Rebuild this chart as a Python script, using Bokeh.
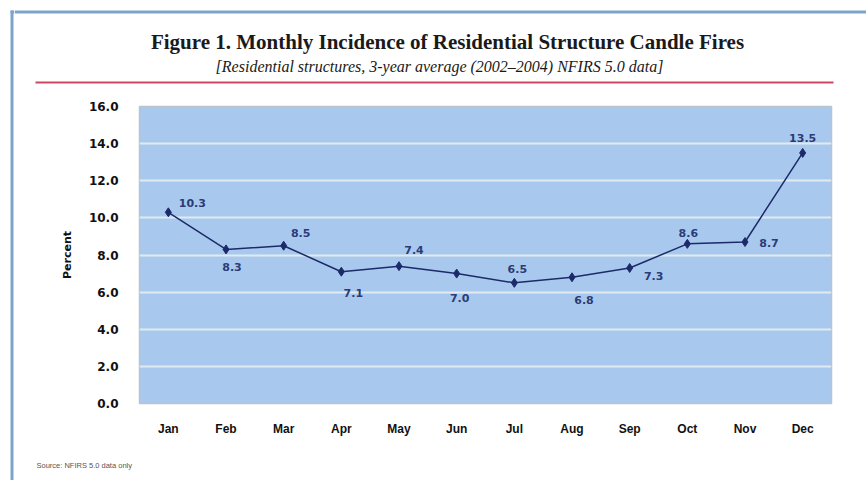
from bokeh.plotting import figure
from bokeh.layouts import row, column
from bokeh.models import (ColumnDataSource, FactorRange, Range1d, Label, LabelSet,
                          BoxAnnotation, SingleIntervalTicker, NumeralTickFormatter)
from bokeh.core.properties import value
from bokeh.embed import file_html
from bokeh.resources import INLINE

months = ["Jan", "Feb", "Mar", "Apr", "May", "Jun", "Jul", "Aug", "Sep", "Oct", "Nov", "Dec"]
percent = [10.3, 8.3, 8.5, 7.1, 7.4, 7.0, 6.5, 6.8, 7.3, 8.6, 8.7, 13.5]
labels = ["10.3", "8.3", "8.5", "7.1", "7.4", "7.0", "6.5", "6.8", "7.3", "8.6", "8.7", "13.5"]

title = "Figure 1. Monthly Incidence of Residential Structure Candle Fires"
subtitle = "[Residential structures, 3-year average (2002\u20132004) NFIRS 5.0 data]"
source_note = "Source: NFIRS 5.0 data only"

# label placement offsets (pixels) relative to each point
dx = [24, 6, 17, 12, 15, 3, 3, 12, 24, 1, 24, 0]
dy = [9, -18, 13, -21, 16, -24, 14, -23, -8, 11, -1, 15]

src = ColumnDataSource(dict(m=months, v=percent, t=labels, dx=dx, dy=dy))

FRAME = "#7ea3cc"
TOTAL_H = 480
LEFT_W = 14
RW = 852


def no_align(f):
    try:
        f.frame_align = False
    except Exception:
        pass
    return f


def blank(w, h):
    f = figure(width=w, height=h, x_range=Range1d(0, w), y_range=Range1d(h, 0),
               output_backend="svg", toolbar_location=None, min_border=0,
               x_axis_location=None, y_axis_location=None)
    f.outline_line_color = None
    f.xgrid.visible = False
    f.ygrid.visible = False
    f.background_fill_color = "white"
    f.border_fill_color = "white"
    return no_align(f)


# left frame bar
leftbar = blank(LEFT_W, TOTAL_H)
leftbar.add_layout(BoxAnnotation(left=10, right=13, top=10, bottom=TOTAL_H, fill_color=FRAME,
                                 fill_alpha=1, line_color=None))
leftbar.add_layout(BoxAnnotation(left=10, right=LEFT_W, top=10, bottom=13, fill_color=FRAME,
                                 fill_alpha=1, line_color=None))

# header
header = blank(RW, 98)
header.add_layout(BoxAnnotation(left=0, right=RW, top=10, bottom=13, fill_color=FRAME,
                                fill_alpha=1, line_color=None))
header.add_layout(BoxAnnotation(left=21, right=819, top=81, bottom=83, fill_color="#cc4862",
                                fill_alpha=1, line_color=None))
header.add_layout(Label(x=433, y=41, text=title, text_align="center", text_baseline="middle",
                        text_font="Liberation Serif", text_font_style="bold",
                        text_font_size="21px", text_color="#1a1a1a"))
header.add_layout(Label(x=425, y=66, text=subtitle, text_align="center", text_baseline="middle",
                        text_font="Liberation Serif", text_font_style="italic",
                        text_font_size="16px", text_color="#1a1a1a"))

# main chart
p = figure(width=RW, height=347, x_range=FactorRange(*months, range_padding=0),
           y_range=Range1d(0, 16), output_backend="svg", toolbar_location=None,
           min_border_left=125, min_border_right=35, min_border_top=8, min_border_bottom=42)
no_align(p)

p.background_fill_color = "#a8c9ed"
p.border_fill_color = "white"
p.outline_line_color = "#b9c4cf"
p.outline_line_width = 1.5

p.xgrid.grid_line_color = None
p.ygrid.grid_line_color = "#e1e9f1"
p.ygrid.grid_line_width = 2

p.yaxis.ticker = SingleIntervalTicker(interval=2)
p.yaxis.formatter = NumeralTickFormatter(format="0.0")
for ax in (p.xaxis[0], p.yaxis[0]):
    ax.axis_line_color = None
    ax.major_tick_line_color = None
    ax.minor_tick_line_color = None
    ax.major_label_text_font_style = "bold"
    ax.major_label_text_color = "#111111"
p.yaxis.major_label_text_font = "DejaVu Sans"
p.yaxis.major_label_text_font_size = "12px"
p.yaxis.major_label_standoff = 15
p.xaxis.major_label_text_font = "Liberation Sans"
p.xaxis.major_label_text_font_size = "12px"
p.xaxis.major_label_standoff = 12
p.yaxis.axis_label = "Percent"
p.yaxis.axis_label_text_font = "DejaVu Sans"
p.yaxis.axis_label_text_font_style = "bold"
p.yaxis.axis_label_text_font_size = "11px"
p.yaxis.axis_label_text_color = "#111111"
p.yaxis.axis_label_standoff = 12

navy = "#1c2a6a"
p.line("m", "v", source=src, line_color=navy, line_width=1.5)
p.scatter("m", "v", source=src, marker="diamond", size=9, fill_color=navy, line_color=navy)
p.add_layout(LabelSet(x="m", y="v", text="t", source=src, x_offset="dx", y_offset="dy",
                      text_align="center", text_baseline="middle", text_font=value("DejaVu Sans"),
                      text_font_style="bold", text_font_size="11px", text_color="#2b3b78"))

# footer
footer = blank(RW, TOTAL_H - 98 - 347)
footer.add_layout(Label(x=22, y=20, text=source_note, text_align="left", text_baseline="middle",
                        text_font="Liberation Sans", text_font_size="7.5px", text_color="#555555"))

layout = row(leftbar, column(row(header), row(p), row(footer), spacing=0), spacing=0)

open("out.html", "w").write(file_html(layout, INLINE))
